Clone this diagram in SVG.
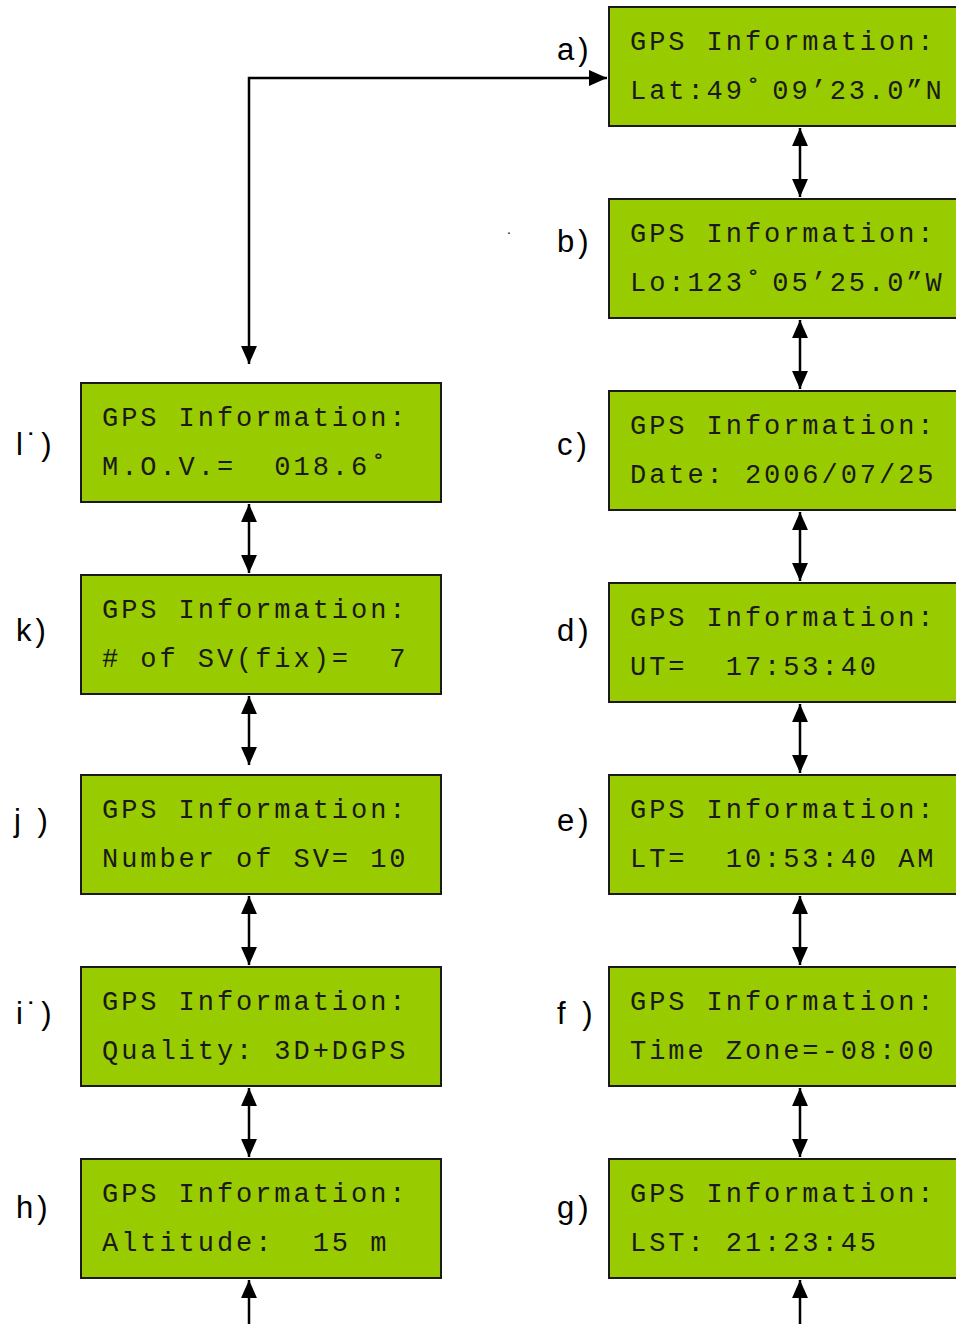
<svg xmlns="http://www.w3.org/2000/svg" width="956" height="1324" viewBox="0 0 956 1324">
<style>
.box{fill:#99cc00;stroke:#1a1a1a;stroke-width:2}
.t{font-family:"Liberation Mono","Courier New",monospace;font-size:27px;letter-spacing:2.95px;fill:#1a1a1a;white-space:pre}
.lb{font-family:"Liberation Sans",Arial,sans-serif;font-size:31px;letter-spacing:4px;fill:#000;white-space:pre}
.c{stroke:#000;stroke-width:2.5;fill:none}
</style>
<defs>
<marker id="ah" markerUnits="userSpaceOnUse" markerWidth="18" markerHeight="16" viewBox="0 0 17 15" refX="17" refY="7.5" orient="auto-start-reverse">
<path d="M0,0 L17,7.5 L0,15 Z" fill="#000"/>
</marker>
</defs>
<g id="connectors">
<path class="c" d="M249,364 V78 H607" marker-start="url(#ah)" marker-end="url(#ah)"/>
<line class="c" x1="800" y1="128" x2="800" y2="197" marker-start="url(#ah)" marker-end="url(#ah)"/>
<line class="c" x1="800" y1="320" x2="800" y2="389" marker-start="url(#ah)" marker-end="url(#ah)"/>
<line class="c" x1="800" y1="512" x2="800" y2="581" marker-start="url(#ah)" marker-end="url(#ah)"/>
<line class="c" x1="800" y1="704" x2="800" y2="773" marker-start="url(#ah)" marker-end="url(#ah)"/>
<line class="c" x1="800" y1="896" x2="800" y2="965" marker-start="url(#ah)" marker-end="url(#ah)"/>
<line class="c" x1="800" y1="1088" x2="800" y2="1157" marker-start="url(#ah)" marker-end="url(#ah)"/>
<line class="c" x1="800" y1="1324" x2="800" y2="1280" marker-end="url(#ah)"/>
<line class="c" x1="249" y1="504" x2="249" y2="573" marker-start="url(#ah)" marker-end="url(#ah)"/>
<line class="c" x1="249" y1="696" x2="249" y2="765" marker-start="url(#ah)" marker-end="url(#ah)"/>
<line class="c" x1="249" y1="896" x2="249" y2="965" marker-start="url(#ah)" marker-end="url(#ah)"/>
<line class="c" x1="249" y1="1088" x2="249" y2="1157" marker-start="url(#ah)" marker-end="url(#ah)"/>
<line class="c" x1="249" y1="1324" x2="249" y2="1280" marker-end="url(#ah)"/>
</g>
<g id="node-a"><rect class="box" x="609" y="7" width="360" height="119"/><text class="t" x="630" y="50">GPS Information:</text><text class="t" x="630" y="99">Lat:49˚<tspan dx="-11"> 09’23.0”N</tspan></text><text class="lb" x="557" y="60">a)</text></g>
<g id="node-b"><rect class="box" x="609" y="199" width="360" height="119"/><text class="t" x="630" y="242">GPS Information:</text><text class="t" x="630" y="291">Lo:123˚<tspan dx="-11"> 05’25.0”W</tspan></text><text class="lb" x="557" y="252">b)</text></g>
<g id="node-c"><rect class="box" x="609" y="391" width="360" height="119"/><text class="t" x="630" y="434">GPS Information:</text><text class="t" x="630" y="483">Date: 2006/07/25</text><text class="lb" x="557" y="455">c)</text></g>
<g id="node-d"><rect class="box" x="609" y="583" width="360" height="119"/><text class="t" x="630" y="626">GPS Information:</text><text class="t" x="630" y="675">UT=  17:53:40</text><text class="lb" x="557" y="641">d)</text></g>
<g id="node-e"><rect class="box" x="609" y="775" width="360" height="119"/><text class="t" x="630" y="818">GPS Information:</text><text class="t" x="630" y="867">LT=  10:53:40 AM</text><text class="lb" x="557" y="831">e)</text></g>
<g id="node-f"><rect class="box" x="609" y="967" width="360" height="119"/><text class="t" x="630" y="1010">GPS Information:</text><text class="t" x="630" y="1059">Time Zone=-08:00</text><text class="lb" x="557" y="1024">f )</text></g>
<g id="node-g"><rect class="box" x="609" y="1159" width="360" height="119"/><text class="t" x="630" y="1202">GPS Information:</text><text class="t" x="630" y="1251">LST: 21:23:45</text><text class="lb" x="557" y="1218">g)</text></g>
<g id="node-l"><rect class="box" x="81" y="383" width="360" height="119"/><text class="t" x="102" y="426">GPS Information:</text><text class="t" x="102" y="475">M.O.V.=  018.6˚</text><text class="lb" x="16" y="455">l˙)</text></g>
<g id="node-k"><rect class="box" x="81" y="575" width="360" height="119"/><text class="t" x="102" y="618">GPS Information:</text><text class="t" x="102" y="667"># of SV(fix)=  7</text><text class="lb" x="16" y="641">k)</text></g>
<g id="node-j"><rect class="box" x="81" y="775" width="360" height="119"/><text class="t" x="102" y="818">GPS Information:</text><text class="t" x="102" y="867">Number of SV= 10</text><text class="lb" x="14" y="831">j )</text></g>
<g id="node-i"><rect class="box" x="81" y="967" width="360" height="119"/><text class="t" x="102" y="1010">GPS Information:</text><text class="t" x="102" y="1059">Quality: 3D+DGPS</text><text class="lb" x="16" y="1024">i˙)</text></g>
<g id="node-h"><rect class="box" x="81" y="1159" width="360" height="119"/><text class="t" x="102" y="1202">GPS Information:</text><text class="t" x="102" y="1251">Altitude:  15 m</text><text class="lb" x="16" y="1218">h)</text></g>
<text class="lb" x="507" y="234" style="font-size:14px">.</text>
</svg>
